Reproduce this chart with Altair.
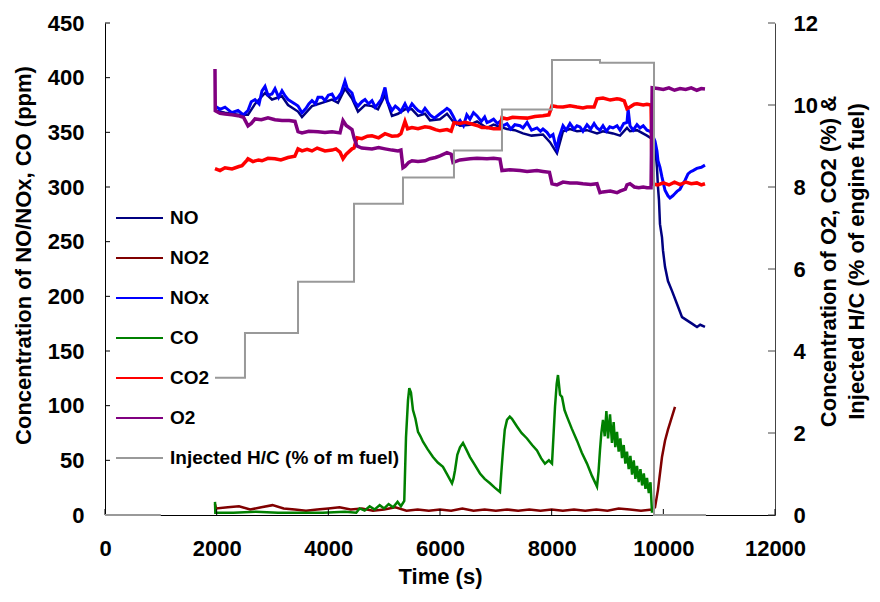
import altair as alt
import pandas as pd

FONT = "Liberation Sans"

# ---------------- data (time s, value) ----------------
# left axis (ppm)
NO = [(1970, 370), (2149, 368), (2382, 366), (2561, 366), (2687, 376), (2866, 386), (2991, 380),
      (3170, 383), (3278, 375), (3457, 369), (3528, 364), (3707, 374), (3886, 377), (4066, 380),
      (4173, 377), (4298, 390), (4424, 381), (4531, 369), (4657, 375), (4782, 374), (4889, 371),
      (5015, 384), (5140, 365), (5248, 367), (5373, 371), (5498, 371), (5606, 365), (5731, 367),
      (5821, 361), (6000, 362), (6125, 367), (6233, 360), (6358, 356), (6537, 357), (6663, 360),
      (6842, 354), (6960, 357), (7074, 355), (7200, 353), (7340, 352), (7486, 349), (7640, 347),
      (7844, 348), (7970, 341), (8095, 331), (8203, 351), (8328, 353), (8454, 351), (8633, 352),
      (8812, 349), (8919, 351), (9098, 349), (9224, 347), (9349, 354), (9403, 351), (9528, 352),
      (9707, 347), (9800, 344), (9851, 338), (9886, 318), (9904, 300), (9922, 288), (9940, 266),
      (9976, 254), (9994, 242), (10030, 227), (10083, 214), (10155, 205), (10245, 193),
      (10335, 181), (10424, 178), (10513, 175), (10603, 172), (10660, 174), (10746, 172)]

NO2 = [(1970, 10), (1990, 6), (2200, 7), (2400, 8), (2600, 5), (2800, 7), (3000, 9), (3200, 6),
       (3400, 5), (3600, 4), (3800, 5), (4000, 6), (4200, 7), (4400, 5), (4600, 6), (4800, 4),
       (5000, 5), (5200, 7), (5400, 4), (5600, 5), (5800, 4), (6000, 5), (6200, 4), (6400, 6),
       (6600, 4), (6800, 5), (7000, 4), (7200, 5), (7400, 4), (7600, 5), (7800, 4), (8000, 5),
       (8200, 4), (8400, 5), (8600, 4), (8800, 5), (9000, 4), (9200, 6), (9400, 5), (9600, 4),
       (9800, 5), (9851, 7), (9904, 23), (9976, 53), (10030, 68), (10083, 78), (10155, 90),
       (10209, 99)]

NOX = [(1970, 374), (2060, 371), (2149, 373), (2270, 368), (2382, 370), (2480, 366), (2561, 370),
       (2620, 378), (2687, 380), (2760, 376), (2812, 388), (2866, 392), (2919, 384), (2991, 385),
       (3045, 390), (3110, 382), (3170, 388), (3230, 383), (3278, 380), (3340, 378), (3403, 376),
       (3457, 374), (3528, 368), (3600, 372), (3650, 376), (3707, 379), (3770, 376), (3815, 382),
       (3886, 382), (3940, 379), (4000, 384), (4066, 385), (4120, 380), (4173, 382), (4230, 386),
       (4298, 397), (4340, 390), (4424, 386), (4470, 378), (4531, 374), (4600, 378), (4657, 380),
       (4720, 376), (4782, 379), (4840, 373), (4889, 376), (4950, 380), (5015, 391), (5060, 378),
       (5140, 370), (5200, 374), (5248, 372), (5300, 369), (5373, 376), (5430, 370), (5498, 376),
       (5550, 373), (5606, 370), (5680, 368), (5731, 372), (5821, 366), (5900, 363), (6000, 367),
       (6053, 369), (6125, 372), (6179, 370), (6233, 365), (6300, 358), (6358, 361), (6420, 356),
       (6480, 366), (6537, 362), (6600, 368), (6663, 365), (6740, 360), (6800, 364), (6842, 359),
       (6895, 360), (6960, 362), (7030, 358), (7074, 360), (7128, 356), (7200, 358), (7270, 353),
       (7340, 357), (7433, 356), (7486, 354), (7560, 359), (7640, 352), (7737, 354), (7800, 351),
       (7844, 353), (7916, 350), (7970, 346), (8024, 348), (8060, 340), (8095, 335), (8130, 345),
       (8203, 356), (8260, 352), (8328, 358), (8400, 353), (8454, 356), (8507, 355), (8560, 351),
       (8633, 357), (8700, 353), (8760, 358), (8812, 354), (8865, 352), (8919, 356), (8980, 351),
       (9040, 355), (9098, 354), (9170, 356), (9224, 352), (9290, 358), (9349, 359), (9370, 371),
       (9403, 356), (9460, 352), (9528, 357), (9582, 354), (9640, 356), (9707, 352), (9761, 351),
       (9800, 348), (9851, 342), (9886, 333), (9904, 324), (9940, 318), (9976, 309), (10030, 297),
       (10083, 292), (10119, 290), (10170, 292), (10209, 294), (10245, 296), (10299, 298),
       (10340, 302), (10388, 306), (10442, 312), (10490, 314), (10531, 315), (10600, 317),
       (10680, 318), (10746, 320)]

CO = [(1970, 12), (1976, 2), (2300, 2), (2700, 3), (3100, 2), (3500, 2), (3900, 2), (4300, 3),
      (4500, 2), (4560, 6), (4650, 4), (4740, 8), (4830, 5), (4920, 9), (5000, 6), (5080, 10),
      (5160, 7), (5240, 12), (5300, 8), (5360, 13), (5391, 71), (5427, 105), (5450, 116),
      (5480, 112), (5516, 96), (5560, 88), (5606, 76), (5650, 72), (5695, 67), (5780, 60),
      (5874, 53), (5960, 48), (6053, 44), (6140, 36), (6215, 29), (6240, 33), (6269, 41),
      (6310, 55), (6358, 62), (6412, 66), (6470, 60), (6537, 53), (6620, 46), (6716, 38),
      (6800, 33), (6895, 29), (6980, 25), (7074, 21), (7100, 40), (7128, 59), (7160, 78),
      (7200, 87), (7250, 90), (7289, 88), (7379, 81), (7460, 75), (7558, 70), (7650, 64),
      (7737, 59), (7810, 52), (7880, 47), (7950, 50), (8006, 47), (8030, 70), (8060, 99),
      (8090, 120), (8113, 128), (8150, 110), (8185, 108), (8230, 96), (8274, 90), (8360, 79),
      (8454, 68), (8540, 57), (8633, 47), (8720, 36), (8812, 26), (8840, 40), (8865, 59),
      (8890, 75), (8919, 87), (8950, 72), (8980, 95), (9010, 70), (9045, 92), (9080, 66),
      (9110, 85), (9140, 62), (9170, 76), (9200, 58), (9230, 70), (9260, 52), (9290, 64),
      (9320, 47), (9349, 58), (9380, 42), (9410, 54), (9440, 37), (9470, 50), (9500, 33),
      (9528, 45), (9560, 30), (9590, 42), (9620, 27), (9650, 38), (9680, 24), (9707, 34),
      (9740, 20), (9770, 30), (9797, 2)]

# right axis (%)
CO2 = [(1970, 8.45), (2060, 8.40), (2149, 8.47), (2275, 8.44), (2400, 8.50), (2454, 8.52),
       (2540, 8.65), (2561, 8.69), (2650, 8.62), (2750, 8.66), (2812, 8.64), (2919, 8.70),
       (3045, 8.69), (3150, 8.66), (3278, 8.72), (3400, 8.75), (3457, 8.93), (3530, 8.88),
       (3620, 8.92), (3707, 8.88), (3800, 8.95), (3940, 8.88), (4066, 8.90), (4137, 8.93),
       (4209, 8.85), (4263, 8.69), (4320, 8.80), (4424, 8.93), (4460, 8.95), (4513, 9.20),
       (4600, 9.18), (4700, 9.24), (4782, 9.25), (4900, 9.20), (5015, 9.30), (5140, 9.24),
       (5248, 9.25), (5300, 9.30), (5337, 9.45), (5373, 9.60), (5420, 9.42), (5498, 9.45),
       (5606, 9.42), (5731, 9.47), (5821, 9.45), (5920, 9.40), (6000, 9.37), (6125, 9.40),
       (6200, 9.36), (6250, 9.57), (6358, 9.55), (6450, 9.58), (6537, 9.55), (6663, 9.50),
       (6750, 9.45), (6842, 9.45), (6960, 9.42), (7074, 9.42), (7110, 9.69), (7200, 9.66),
       (7300, 9.70), (7433, 9.69), (7560, 9.68), (7700, 9.72), (7844, 9.74), (7950, 9.76),
       (8006, 9.98), (8095, 9.96), (8203, 9.95), (8328, 9.98), (8454, 9.95), (8560, 9.93),
       (8633, 9.95), (8760, 9.95), (8812, 10.15), (8919, 10.17), (9050, 10.12), (9170, 10.15),
       (9224, 10.14), (9300, 10.10), (9349, 9.91), (9403, 9.95), (9480, 10.02), (9528, 10.03),
       (9640, 10.00), (9707, 10.02), (9780, 10.00), (9800, 8.08), (9900, 8.05), (10000, 8.10),
       (10100, 8.05), (10200, 8.12), (10300, 8.06), (10400, 8.12), (10500, 8.08), (10600, 8.10),
       (10680, 8.05), (10746, 8.08)]

O2 = [(1970, 10.88), (1975, 9.86), (2060, 9.80), (2149, 9.78), (2275, 9.76), (2382, 9.74),
      (2480, 9.70), (2561, 9.49), (2620, 9.55), (2687, 9.66), (2800, 9.64), (2919, 9.69),
      (3045, 9.64), (3170, 9.62), (3300, 9.62), (3403, 9.60), (3457, 9.35), (3528, 9.32),
      (3650, 9.36), (3815, 9.35), (3940, 9.33), (4066, 9.35), (4209, 9.32), (4263, 9.62),
      (4320, 9.50), (4424, 9.40), (4460, 9.20), (4513, 9.00), (4600, 8.95), (4782, 8.93),
      (4900, 8.96), (5015, 8.93), (5140, 8.90), (5248, 8.88), (5300, 8.90), (5337, 8.47),
      (5373, 8.50), (5440, 8.60), (5498, 8.64), (5606, 8.62), (5731, 8.64), (5821, 8.69),
      (5920, 8.72), (6000, 8.76), (6125, 8.84), (6200, 8.80), (6233, 8.60), (6358, 8.66),
      (6537, 8.69), (6663, 8.70), (6842, 8.69), (6960, 8.70), (7074, 8.68), (7110, 8.40),
      (7250, 8.42), (7433, 8.40), (7560, 8.38), (7737, 8.40), (7844, 8.38), (7960, 8.36),
      (8006, 8.08), (8095, 8.05), (8203, 8.12), (8328, 8.10), (8454, 8.10), (8560, 8.08),
      (8700, 8.06), (8812, 8.08), (8865, 7.86), (8919, 7.88), (9050, 7.90), (9170, 7.86),
      (9224, 7.90), (9320, 7.95), (9349, 8.05), (9403, 8.08), (9480, 8.00), (9560, 7.98),
      (9640, 8.00), (9707, 7.98), (9780, 7.98), (9800, 10.42), (9900, 10.40), (10000, 10.38),
      (10100, 10.42), (10200, 10.36), (10300, 10.40), (10400, 10.38), (10500, 10.42),
      (10600, 10.36), (10680, 10.40), (10746, 10.39)]

# injected H/C (% of fuel): (time, value, segment)
HC = [(0, 0, "a"), (1000, 0, "a"),
      (1970, 3.35, "b"), (2507, 3.35, "b"), (2507, 4.44, "b"), (3457, 4.44, "b"),
      (3457, 5.69, "b"), (4460, 5.69, "b"), (4460, 7.59, "b"), (5337, 7.59, "b"),
      (5337, 8.23, "b"), (6250, 8.23, "b"), (6250, 8.89, "b"), (7110, 8.89, "b"),
      (7110, 9.89, "b"), (8006, 9.89, "b"), (8006, 11.10, "b"), (8865, 11.10, "b"),
      (8865, 11.03, "b"), (9833, 11.03, "b"), (9833, 0, "b"), (10764, 0, "b")]

SERIES = ["NO", "NO2", "NOx", "CO", "CO2", "O2", "Injected H/C (% of m fuel)"]
COLORS = ["#000080", "#800000", "#0000FF", "#008000", "#FF0000", "#800080", "#999999"]

X_TICKS = [0, 2000, 4000, 6000, 8000, 10000, 12000]
LEFT_TICKS = [0, 50, 100, 150, 200, 250, 300, 350, 400, 450]
RIGHT_TICKS = [0, 2, 4, 6, 8, 10, 12]

W, H = 670, 492


def frame(name, pairs):
    return pd.DataFrame({"t": [p[0] for p in pairs], "v": [p[1] for p in pairs],
                         "s": name, "i": list(range(len(pairs))),
                         "g": [p[2] if len(p) > 2 else "a" for p in pairs]})


x_axis = alt.Axis(values=X_TICKS, format="d", ticks=False, grid=False, labelFlush=False,
                  labelOverlap=False, labelPadding=23, labelFont=FONT, labelFontSize=22,
                  labelFontWeight="bold", labelColor="black", domainColor="black",
                  title="Time (s)", titleFont=FONT, titleFontSize=22, titleFontWeight="bold",
                  titleColor="black", titleY=68, titleBaseline="alphabetic")
x_scale = alt.Scale(domain=[0, 12000], nice=False, zero=False)

left_axis = alt.Axis(values=LEFT_TICKS, ticks=False, grid=False, labelPadding=21, labelFont=FONT,
                     labelFontSize=22, labelFontWeight="bold", labelColor="black",
                     domainColor="black", title="Concentration of NO/NOx, CO (ppm)",
                     titleFont=FONT, titleFontSize=22, titleFontWeight="bold", titleColor="black",
                     titleAngle=270, titleAlign="center", titleBaseline="alphabetic",
                     titleX=-75, titleY=232)
left_scale = alt.Scale(domain=[0, 450], nice=False, zero=False)

right_axis = alt.Axis(orient="right", values=RIGHT_TICKS, ticks=False, grid=False, labelPadding=18,
                      labelFont=FONT, labelFontSize=22, labelFontWeight="bold", labelColor="black",
                      domainColor="#444444",
                      title=["Concentration of O2, CO2 (%) &", "Injected H/C (% of engine fuel)"],
                      titleFont=FONT, titleFontSize=22, titleFontWeight="bold", titleColor="black",
                      titleAngle=270, titleAlign="center", titleBaseline="alphabetic",
                      titleLineHeight=28, titleX=60, titleY=238)
right_scale = alt.Scale(domain=[0, 12], nice=False, zero=False)

legend = alt.Legend(orient="none", legendX=10, legendY=185, direction="vertical", title=None,
                    symbolType="stroke", symbolSize=2209, symbolStrokeWidth=2, clipHeight=20,
                    rowPadding=20, labelFont=FONT, labelFontSize=19, labelFontWeight="bold",
                    labelColor="black", labelOffset=6, labelLimit=400, padding=0)
color = alt.Color("s:N", scale=alt.Scale(domain=SERIES, range=COLORS), legend=legend)


def line(name, pairs, y_scale, y_axis, width):
    return alt.Chart(frame(name, pairs)).mark_line(strokeWidth=width, strokeJoin="miter").encode(
        x=alt.X("t:Q", scale=x_scale, axis=x_axis),
        y=alt.Y("v:Q", scale=y_scale, axis=y_axis),
        color=color,
        detail="g:N",
        order="i:Q",
    )


left_tick_marks = alt.Chart(pd.DataFrame({"v": LEFT_TICKS})).mark_rule(color="black").encode(
    y=alt.Y("v:Q", scale=left_scale, axis=left_axis), x=alt.value(0), x2=alt.value(5))
x_tick_marks = alt.Chart(pd.DataFrame({"t": X_TICKS})).mark_rule(color="black").encode(
    x=alt.X("t:Q", scale=x_scale, axis=x_axis), y=alt.value(H), y2=alt.value(H - 6))
right_tick_marks = alt.Chart(pd.DataFrame({"v": RIGHT_TICKS})).mark_rule(color="#444444").encode(
    y=alt.Y("v:Q", scale=right_scale, axis=right_axis), x=alt.value(W - 7), x2=alt.value(W))

left = alt.layer(
    line("NO", NO, left_scale, left_axis, 2.5),
    line("NO2", NO2, left_scale, left_axis, 2.5),
    line("NOx", NOX, left_scale, left_axis, 3),
    line("CO", CO, left_scale, left_axis, 2.5),
    left_tick_marks,
    x_tick_marks,
)
right = alt.layer(
    line("CO2", CO2, right_scale, right_axis, 3.5),
    line("O2", O2, right_scale, right_axis, 3.5),
    line("Injected H/C (% of m fuel)", HC, right_scale, right_axis, 2),
    right_tick_marks,
)

chart = alt.layer(left, right).resolve_scale(y="independent").properties(
    width=W, height=H,
    autosize=alt.AutoSizeParams(type="none"),
    padding={"left": 97, "top": 15, "right": 97, "bottom": 74},
    background="white",
).configure_view(stroke=None)

chart.save("out.html", embed_options={"renderer": "svg", "actions": False})
